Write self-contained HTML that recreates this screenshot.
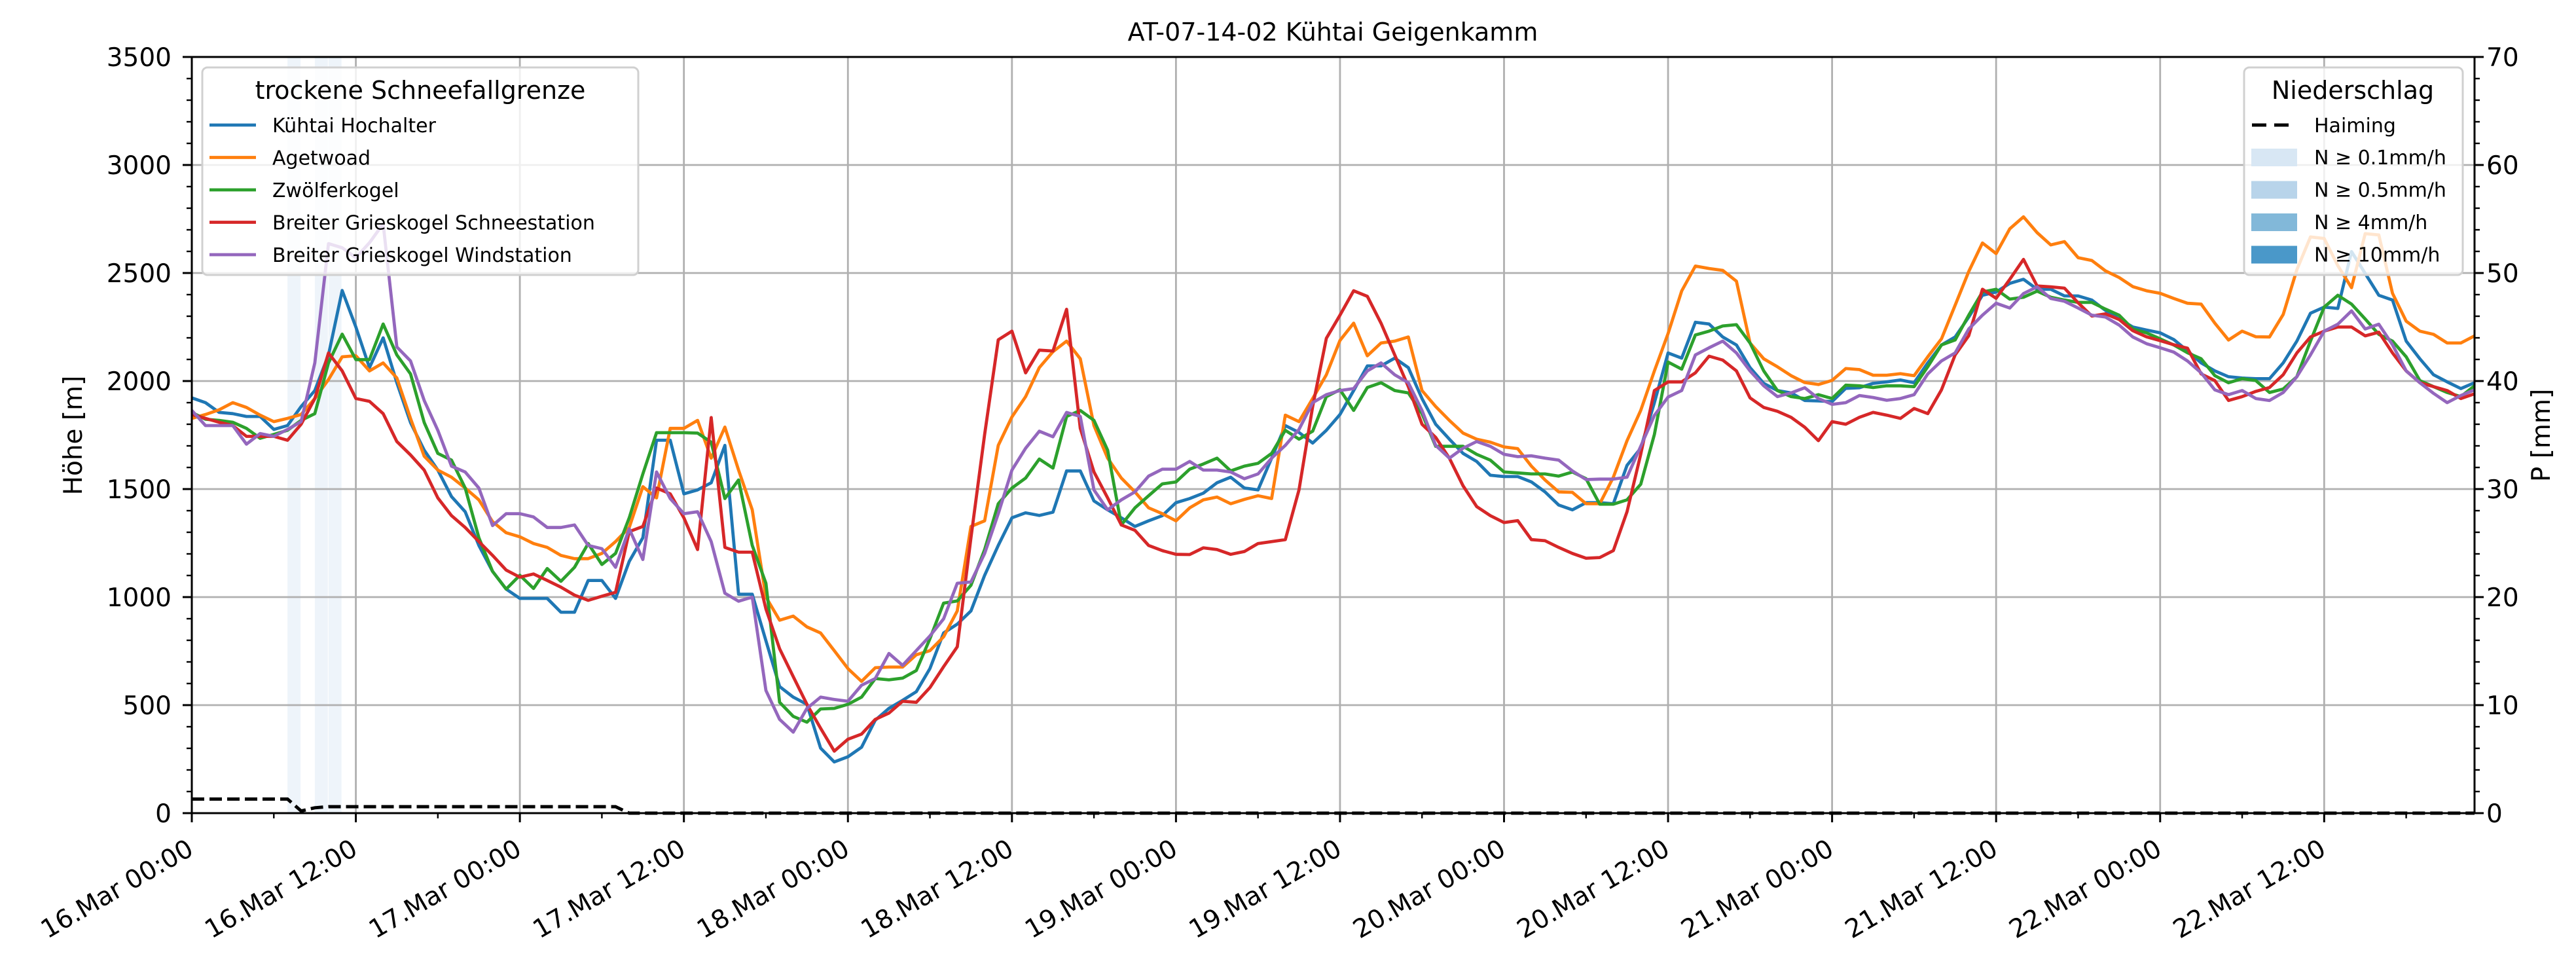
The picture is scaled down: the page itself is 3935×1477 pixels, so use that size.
<!DOCTYPE html>
<html><head><meta charset="utf-8"><style>
html,body{margin:0;padding:0;background:#fff;}
svg{display:block;font-family:"DejaVu Sans","Liberation Sans",sans-serif;}
</style></head><body>
<svg id="chart" width="3935" height="1477" viewBox="0 0 3935 1477" xmlns="http://www.w3.org/2000/svg">
<rect width="3935" height="1477" fill="#fff"/>
<g id="precip"></g>
<g id="grid"></g>
<g id="series"></g>
<g id="axes"></g>
<text x="2036" y="62" font-size="38" text-anchor="middle">AT-07-14-02 Kühtai Geigenkamm</text>
<text transform="translate(125,665) rotate(-90)" font-size="39" text-anchor="middle">Höhe [m]</text>
<text transform="translate(3895,665) rotate(-90)" font-size="39" text-anchor="middle">P [mm]</text>
<g id="legend1"></g>
<g id="legend2"></g>
</svg>
<script>
const seriesNames = ["Kühtai Hochalter","Agetwoad","Zwölferkogel","Breiter Grieskogel Schneestation","Breiter Grieskogel Windstation"];
const seriesColors = ["#1f77b4","#ff7f0e","#2ca02c","#d62728","#9467bd"];
const hochalter = [1922,1900,1855,1849,1836,1836,1776,1794,1882,1956,2121,2419,2250,2062,2200,1992,1808,1680,1588,1465,1395,1239,1119,1037,994,994,994,930,930,1077,1077,994,1165,1275,1726,1726,1478,1496,1529,1702,1013,1013,798,586,537,504,301,237,261,305,430,485,522,562,669,834,875,936,1101,1239,1367,1390,1378,1393,1584,1584,1445,1404,1367,1327,1353,1377,1437,1456,1481,1529,1555,1505,1496,1643,1794,1762,1713,1772,1845,1956,2070,2070,2106,2062,1919,1800,1731,1665,1628,1564,1558,1558,1533,1487,1426,1404,1437,1437,1432,1610,1689,1900,2130,2106,2272,2264,2204,2167,2062,1989,1956,1945,1910,1908,1905,1966,1969,1989,1996,2005,1992,2084,2167,2204,2296,2397,2412,2452,2471,2425,2425,2394,2394,2375,2327,2287,2250,2236,2223,2192,2140,2084,2047,2020,2014,2011,2011,2084,2185,2314,2342,2336,2599,2498,2397,2375,2185,2103,2029,1996,1965,1992];
const agetwoad = [1827,1845,1867,1900,1878,1842,1812,1827,1845,1919,2007,2112,2117,2047,2084,2014,1827,1652,1588,1555,1505,1450,1349,1298,1279,1248,1230,1193,1178,1178,1202,1257,1322,1511,1459,1781,1781,1818,1643,1787,1588,1404,1000,893,912,862,834,752,669,610,673,676,676,733,752,816,936,1327,1353,1702,1834,1928,2062,2136,2185,2103,1794,1643,1551,1487,1413,1386,1353,1413,1450,1463,1432,1452,1469,1456,1842,1812,1919,2029,2188,2268,2117,2176,2185,2204,1956,1882,1818,1759,1731,1717,1695,1687,1606,1542,1487,1485,1432,1432,1555,1724,1864,2047,2220,2417,2532,2521,2512,2462,2176,2103,2066,2025,1993,1984,2003,2058,2053,2027,2027,2034,2025,2112,2195,2351,2507,2639,2590,2705,2760,2687,2630,2645,2571,2558,2510,2479,2437,2418,2406,2382,2360,2356,2268,2190,2231,2205,2204,2308,2515,2667,2660,2534,2432,2682,2676,2406,2277,2231,2216,2176,2176,2209];
const zwoelferkogel = [1855,1823,1818,1809,1781,1735,1753,1772,1818,1849,2084,2217,2099,2099,2264,2121,2033,1808,1665,1634,1505,1275,1119,1037,1101,1040,1132,1073,1138,1248,1151,1202,1367,1570,1761,1761,1761,1759,1717,1456,1542,1239,1064,513,448,421,482,485,504,537,623,617,625,660,807,972,982,1055,1220,1432,1505,1551,1639,1597,1836,1864,1818,1680,1334,1413,1469,1524,1533,1592,1616,1643,1584,1606,1619,1665,1772,1731,1768,1928,1960,1864,1970,1992,1956,1945,1849,1698,1698,1698,1661,1634,1579,1575,1570,1570,1560,1579,1548,1430,1430,1450,1522,1753,2088,2055,2213,2231,2255,2261,2176,2047,1956,1928,1919,1937,1919,1981,1978,1970,1978,1978,1974,2066,2167,2190,2305,2412,2425,2379,2388,2416,2388,2375,2364,2364,2333,2305,2241,2223,2195,2167,2131,2103,2025,1992,2011,2002,1947,1963,2020,2185,2342,2397,2356,2287,2216,2185,2112,2002,1974,1947,1928,1978];
const schneestation = [1845,1827,1809,1794,1744,1744,1744,1726,1800,1919,2130,2047,1919,1906,1849,1720,1658,1588,1459,1377,1322,1257,1193,1125,1092,1107,1077,1046,1009,985,1004,1022,1303,1327,1505,1478,1367,1220,1831,1230,1208,1208,945,761,632,504,393,287,342,366,434,463,518,513,581,678,770,1275,1753,2191,2231,2038,2143,2139,2332,1781,1579,1459,1334,1309,1239,1215,1198,1197,1228,1220,1198,1211,1248,1257,1266,1496,1882,2198,2305,2418,2392,2268,2121,1974,1800,1739,1643,1515,1419,1377,1345,1354,1266,1261,1230,1202,1180,1183,1215,1395,1661,1956,1996,1996,2038,2115,2097,2047,1922,1878,1860,1832,1786,1724,1812,1800,1832,1855,1842,1827,1873,1849,1959,2121,2210,2425,2383,2471,2563,2440,2436,2430,2362,2301,2311,2285,2233,2205,2187,2168,2152,2033,2002,1910,1928,1952,1970,2029,2130,2204,2231,2250,2250,2209,2226,2130,2047,1992,1974,1956,1919,1941];
const windstation = [1864,1794,1794,1794,1708,1757,1744,1776,1812,2084,2636,2617,2571,2640,2728,2158,2093,1910,1772,1606,1579,1505,1331,1386,1386,1371,1322,1322,1334,1239,1224,1138,1316,1174,1579,1456,1386,1395,1257,1018,981,1000,568,434,375,485,537,526,518,592,623,739,684,752,820,899,1064,1070,1202,1386,1588,1689,1768,1742,1855,1836,1496,1404,1450,1487,1560,1592,1592,1628,1588,1588,1579,1548,1570,1643,1702,1776,1900,1937,1956,1965,2047,2084,2029,1992,1864,1702,1643,1689,1720,1698,1661,1650,1654,1643,1634,1584,1544,1546,1546,1555,1698,1841,1926,1956,2121,2154,2185,2130,2047,1978,1928,1945,1969,1919,1892,1900,1933,1924,1911,1919,1937,2033,2093,2130,2241,2305,2360,2338,2405,2436,2382,2369,2338,2305,2296,2259,2204,2173,2154,2134,2093,2038,1959,1937,1956,1919,1910,1947,2020,2121,2231,2263,2325,2241,2263,2168,2047,1992,1943,1900,1933,1959];
const haimingHours = [0,7,8,9,10,31,32,167];
const haimingMM = [1.3,1.3,0.2,0.5,0.6,0.6,0,0];
const precipHours = [7,9,10];
const yTicks = [0,500,1000,1500,2000,2500,3000,3500];
const y2Ticks = [0,10,20,30,40,50,60,70];
const xTickLabels = ["16.Mar 00:00","16.Mar 12:00","17.Mar 00:00","17.Mar 12:00","18.Mar 00:00","18.Mar 12:00","19.Mar 00:00","19.Mar 12:00","20.Mar 00:00","20.Mar 12:00","21.Mar 00:00","21.Mar 12:00","22.Mar 00:00","22.Mar 12:00"];

const L=293,R=3780,T=87,B=1242,HMAX=167,YMAX=3500,Y2MAX=70;
const xS=h=>L+h*(R-L)/HMAX;
const yS=v=>B-v*(B-T)/YMAX;
const y2S=v=>B-v*(B-T)/Y2MAX;
const NS="http://www.w3.org/2000/svg";
function mk(tag,attrs,parent){const e=document.createElementNS(NS,tag);for(const k in attrs)e.setAttribute(k,attrs[k]);parent.appendChild(e);return e;}

const gP=document.getElementById('precip');
precipHours.forEach(h=>{
  const r=mk('rect',{x:xS(h),y:T,width:xS(h+1)-xS(h)-1,height:B-T,fill:'#c6dbef','fill-opacity':0.3},gP);
  
  
});

const gG=document.getElementById('grid');
xTickLabels.forEach((t,i)=>{
  const x=xS(i*12);
  const l=mk('line',{x1:x,x2:x,y1:T,y2:B,stroke:'#b0b0b0','stroke-width':2.8},gG);
  
  
});
yTicks.forEach(v=>{
  const l=mk('line',{x1:L,x2:R,y1:yS(v),y2:yS(v),stroke:'#b0b0b0','stroke-width':2.8},gG);
  
  
});

const gS=document.getElementById('series');
const allSeries=[hochalter,agetwoad,zwoelferkogel,schneestation,windstation];
allSeries.forEach((arr,si)=>{
  const d=arr.map((v,h)=>(h?'L':'M')+xS(h).toFixed(1)+','+yS(v).toFixed(1)).join('');
  const p=mk('path',{d:d,fill:'none',stroke:seriesColors[si],'stroke-width':4.8,'stroke-linejoin':'round'},gS);
  
  
});
const hd=haimingHours.map((h,i)=>(i?'L':'M')+xS(h).toFixed(1)+','+y2S(haimingMM[i]).toFixed(1)).join('');
const hp=mk('path',{d:hd,fill:'none',stroke:'#000','stroke-width':5,'stroke-dasharray':'19,8'},gS);



const gA=document.getElementById('axes');
const fr=mk('rect',{x:L,y:T,width:R-L,height:B-T,fill:'none',stroke:'#000','stroke-width':3},gA);


for(let h=0;h<=HMAX;h+=6){
  const major=h%12===0;
  const t=mk('line',{x1:xS(h),x2:xS(h),y1:B,y2:B+(major?14:8),stroke:'#000','stroke-width':major?3:2.4},gA);
  
  
}
xTickLabels.forEach((lab,i)=>{
  const x=xS(i*12)+5,y=1304;
  const t=mk('text',{transform:`translate(${x},${y}) rotate(-30)`,'font-size':39,'text-anchor':'end'},gA);
  t.textContent=lab;
  
  
});
for(let v=0;v<=YMAX;v+=100){
  const major=v%500===0;
  const y=yS(v);
  const a=mk('line',{x1:L-(major?14:8),x2:L,y1:y,y2:y,stroke:'#000','stroke-width':major?3:2.4},gA);
  
  
  const b=mk('line',{x1:R,x2:R+(major?14:8),y1:y,y2:y,stroke:'#000','stroke-width':major?3:2.4},gA);
  
  
}
yTicks.forEach(v=>{
  const t=mk('text',{x:262,y:yS(v)+14,'font-size':39,'text-anchor':'end'},gA);
  t.textContent=v;
  
  
});
y2Ticks.forEach(v=>{
  const t=mk('text',{x:3798,y:y2S(v)+14,'font-size':39,'text-anchor':'start'},gA);
  t.textContent=v;
  
  
});

const g1=document.getElementById('legend1');
const b1=mk('rect',{x:309,y:103,width:666,height:317,rx:8,fill:'#fff','fill-opacity':0.8,stroke:'#d0d0d0','stroke-width':3},g1);


const t1=mk('text',{x:642,y:151,'font-size':38,'text-anchor':'middle'},g1);
t1.textContent='trockene Schneefallgrenze';


seriesNames.forEach((n,i)=>{
  const y=191+i*49.5;
  const l=mk('line',{x1:320,x2:391,y1:y,y2:y,stroke:seriesColors[i],'stroke-width':4.8},g1);
  
  
  const t=mk('text',{x:416,y:y+11,'font-size':30},g1);
  t.textContent=n;
  
  
});

const g2=document.getElementById('legend2');
const precipLabels=["N ≥ 0.1mm/h","N ≥ 0.5mm/h","N ≥ 4mm/h","N ≥ 10mm/h"];
const precipColors=["#d8e7f4","#b8d4ea","#82b8d9","#4a98c9"];
const b2=mk('rect',{x:3428,y:103,width:334,height:317,rx:8,fill:'#fff','fill-opacity':0.8,stroke:'#d0d0d0','stroke-width':3},g2);


const t2=mk('text',{x:3594,y:151,'font-size':38,'text-anchor':'middle'},g2);
t2.textContent='Niederschlag';


const hl=mk('line',{x1:3440,x2:3500,y1:191,y2:191,stroke:'#000','stroke-width':5,'stroke-dasharray':'22,12'},g2);


const ht=mk('text',{x:3535,y:202,'font-size':30},g2);
ht.textContent='Haiming';


precipLabels.forEach((n,i)=>{
  const y=240+i*49.5;
  const r=mk('rect',{x:3439,y:y-13,width:70,height:27,fill:precipColors[i]},g2);
  
  
  const t=mk('text',{x:3535,y:y+11,'font-size':30},g2);
  t.textContent=n;
  
  
});
</script>
</body></html>
